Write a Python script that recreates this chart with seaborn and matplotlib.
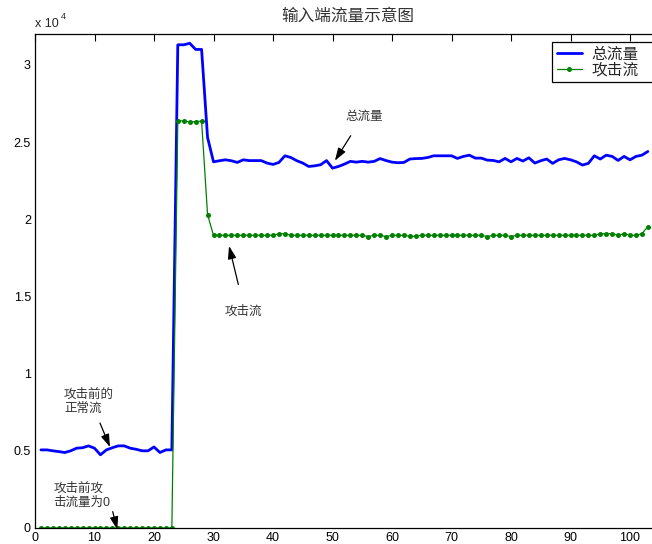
import matplotlib
matplotlib.use("Agg")
import matplotlib.pyplot as plt
import pandas as pd
import seaborn as sns
from matplotlib.ticker import FuncFormatter

# Sample index (time steps)
time_idx = list(range(1, 104))

# Total traffic at the input port
total_flow = [
    5060, 5060, 5000, 4950, 4890, 5000, 5170, 5200, 5320, 5170,
    4740, 5060, 5200, 5320, 5320, 5170, 5100, 5000, 5000, 5250,
    4890, 5060, 5060, 31300, 31300, 31400, 31000, 31000, 25300, 23720,
    23790, 23850, 23790, 23680, 23850, 23800, 23800, 23800, 23640, 23550,
    23680, 24110, 24000, 23790, 23640, 23420, 23460, 23530, 23800, 23310,
    23420, 23570, 23750, 23700, 23750, 23700, 23750, 23930, 23800, 23700,
    23660, 23680, 23900, 23930, 23940, 24000, 24110, 24110, 24110, 24110,
    23940, 24070, 24150, 23960, 23960, 23830, 23810, 23720, 23940, 23720,
    23940, 23770, 23980, 23640, 23790, 23900, 23620, 23850, 23940, 23850,
    23720, 23510, 23620, 24110, 23900, 24150, 24070, 23810, 24070, 23850,
    24070, 24150, 24390,
]

# Attack traffic component
attack_flow = [
    0, 0, 0, 0, 0, 0, 0, 0, 0, 0,
    0, 0, 0, 0, 0, 0, 0, 0, 0, 0,
    0, 0, 0, 26380, 26370, 26300, 26320, 26360, 20300, 18960,
    18960, 18960, 18960, 18960, 18960, 18960, 18960, 18960, 18960, 18960,
    19060, 19060, 18960, 18960, 18960, 18960, 18960, 18960, 18960, 18960,
    18960, 18960, 18960, 18960, 18960, 18880, 18960, 18960, 18880, 18960,
    18960, 18960, 18900, 18900, 18960, 18960, 18960, 18960, 18960, 18960,
    18960, 18960, 18960, 18960, 18960, 18880, 18960, 18960, 18960, 18880,
    18960, 18960, 18960, 18960, 18960, 18960, 18960, 18960, 18960, 18960,
    18960, 18960, 18960, 18960, 19060, 19060, 19060, 18960, 19060, 18960,
    18960, 19060, 19530,
]

series_labels = ["总流量", "攻击流"]
title_text = "输入端流量示意图"
y_ticks = [0, 5000, 10000, 15000, 20000, 25000, 30000]
x_ticks = [0, 10, 20, 30, 40, 50, 60, 70, 80, 90, 100]

sns.set_style("white")
plt.rcParams["font.family"] = ["Liberation Sans", "Noto Sans CJK SC", "DejaVu Sans"]

df = pd.DataFrame({"t": time_idx, "total": total_flow, "attack": attack_flow})

W, H = 652, 544
AX_W = 624.75
fig = plt.figure(figsize=(W / 100, H / 100), dpi=100)
# the plot box runs slightly past the right border of the canvas
ax = fig.add_axes([35 / W, 16 / H, AX_W / W, 494 / H])

sns.lineplot(data=df, x="t", y="total", ax=ax, color="#0000ff", linewidth=2.0,
             label=series_labels[0])
sns.lineplot(data=df, x="t", y="attack", ax=ax, color="#008000", linewidth=0.9,
             marker="o", markersize=3.6, markeredgewidth=0, label=series_labels[1])

ax.set_xlim(0, 105)
ax.set_ylim(0, 32000)
ax.set_xticks(x_ticks)
ax.set_yticks(y_ticks)
ax.yaxis.set_major_formatter(FuncFormatter(lambda v, p: f"{v / 1e4:g}"))
ax.set_xlabel("")
ax.set_ylabel("")
ax.tick_params(direction="in", length=5, width=0.8, labelsize=9, colors="black",
               top=True, right=True, pad=3)
for s in ax.spines.values():
    s.set_color("black")
    s.set_linewidth(0.9)

# Title and exponent marker
fig.text(348 / W, 1 - 16 / H, title_text, ha="center", va="center",
         fontsize=12, color="#333333")
fig.text(35 / W, 1 - 27 / H, "x 10", ha="left", va="baseline", fontsize=9)
fig.text(61 / W, 1 - 19 / H, "4", ha="left", va="baseline", fontsize=6.5)

# Legend box, stretched so it continues past the canvas edge
leg_x0 = (552 - 35) / AX_W
leg_w = (668 - 552) / AX_W
leg = ax.legend(loc="upper left", bbox_to_anchor=(leg_x0, 0.884, leg_w, 0.1),
                mode="expand", borderaxespad=0, frameon=True, fancybox=False,
                framealpha=1, edgecolor="black", fontsize=11.3, handlelength=1.6,
                handletextpad=0.6, labelspacing=0.05, borderpad=0.3)
leg.get_frame().set_linewidth(0.9)

# Annotations
txt_kw = dict(fontsize=9, color="#333333")
arrow_kw = dict(arrowstyle="-|>,head_length=0.55,head_width=0.18", color="black",
                lw=0.9, shrinkA=0, shrinkB=0, mutation_scale=14)

ax.text(55.3, 26620, "总流量", ha="center", va="center", **txt_kw)
ax.annotate("", xy=(50.4, 23790), xytext=(53.06, 25410), arrowprops=arrow_kw,
            annotation_clip=False)

ax.text(34.96, 14030, "攻击流", ha="center", va="center", **txt_kw)
ax.annotate("", xy=(32.61, 18270), xytext=(34.17, 15780), arrowprops=arrow_kw,
            annotation_clip=False)

ax.text(4.87, 8150, "攻击前的\n正常流", ha="left", va="center", linespacing=1.2,
        **txt_kw)
ax.annotate("", xy=(12.61, 5240), xytext=(10.92, 6800), arrowprops=arrow_kw,
            annotation_clip=False)

ax.text(3.08, 2110, "攻击前攻\n击流量为0", ha="left", va="center", linespacing=1.2,
        **txt_kw)
ax.annotate("", xy=(13.83, -100), xytext=(13.06, 1060), arrowprops=arrow_kw,
            annotation_clip=False)

fig.savefig("out.png", dpi=100)
